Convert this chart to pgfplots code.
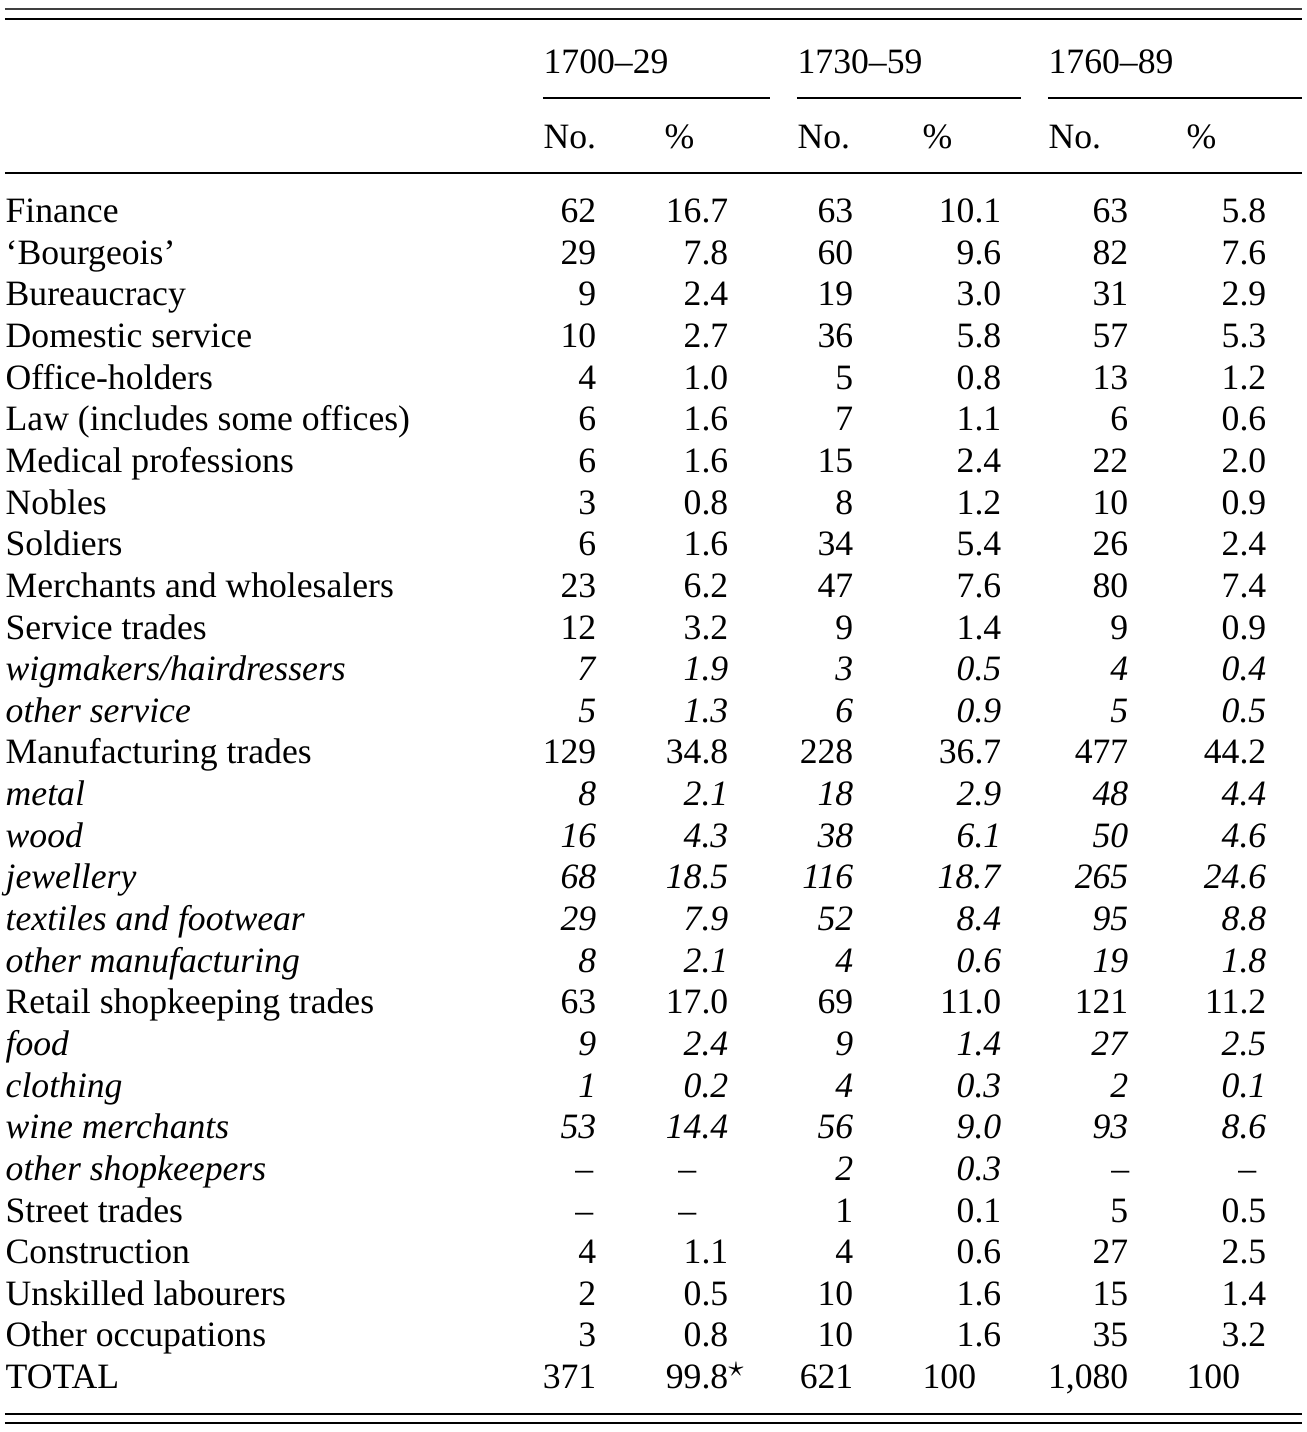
\documentclass[border=0pt]{standalone}
\usepackage{fontspec}
\setmainfont{Liberation Serif}
\usepackage{pgfplots}
\pgfplotsset{compat=1.18}
\newcommand{\I}[1]{\textit{#1}}
\newcommand{\tabfont}{\fontsize{10.7}{12.5}\selectfont}
% x in pixels of the reference, y in table rows (row 0 = Finance, baseline)
\pgfplotsset{
  cellR/.style={only marks, mark=none, point meta=explicit symbolic,
    nodes near coords,
    nodes near coords style={anchor=base east, inner sep=0pt, yshift=-0.5pt, font=\tabfont}},
  cellL/.style={only marks, mark=none, point meta=explicit symbolic,
    nodes near coords,
    nodes near coords style={anchor=base west, inner sep=0pt, yshift=-0.5pt, font=\tabfont}},
  rule/.style={black, mark=none, line width=#1},
}
\begin{document}
\begin{tikzpicture}
\begin{axis}[
    width=392.1pt, height=429.6pt,
    scale only axis,
    hide axis,
    clip=false,
    xmin=0, xmax=1307,
    ymin=-5.3074, ymax=29.083,
    y dir=reverse,
]
\addplot[draw=none] coordinates {(0,-5.3074) (1307,29.083)};

% rules
\addplot[rule=0.35pt, black!75] coordinates {(5,-5.091) (1302,-5.091)};
\addplot[rule=0.7pt] coordinates {(5,-4.851) (1302,-4.851)};
\addplot[rule=0.6pt] coordinates {(543,-2.954) (770,-2.954)};
\addplot[rule=0.6pt] coordinates {(797,-2.954) (1021,-2.954)};
\addplot[rule=0.6pt] coordinates {(1048,-2.954) (1302,-2.954)};
\addplot[rule=0.7pt] coordinates {(5,-1.153) (1302,-1.153)};
\addplot[rule=0.45pt] coordinates {(5,28.650) (1302,28.650)};
\addplot[rule=0.45pt] coordinates {(5,28.866) (1302,28.866)};

% headers and left-aligned cells
\addplot[cellL] coordinates {
  (543,-3.578) [1700–29] (797,-3.578) [1730–59] (1048,-3.578) [1760–89]
  (543,-1.777) [No.] (664,-1.777) [\%]
  (797,-1.777) [No.] (922,-1.777) [\%]
  (1048,-1.777) [No.] (1186,-1.777) [\%]
  (922,28) [100] (1186,28) [100]
};

% row labels
\addplot[cellL] coordinates {
  (5,0) [Finance]
  (5,1) [‘Bourgeois’]
  (5,2) [Bureaucracy]
  (5,3) [Domestic service]
  (5,4) [Office-holders]
  (5,5) [Law (includes some offices)]
  (5,6) [Medical professions]
  (5,7) [Nobles]
  (5,8) [Soldiers]
  (5,9) [Merchants and wholesalers]
  (5,10) [Service trades]
  (5,11) [\I{wigmakers/hairdressers}]
  (5,12) [\I{other service}]
  (5,13) [Manufacturing trades]
  (5,14) [\I{metal}]
  (5,15) [\I{wood}]
  (5,16) [\I{jewellery}]
  (5,17) [\I{textiles and footwear}]
  (5,18) [\I{other manufacturing}]
  (5,19) [Retail shopkeeping trades]
  (5,20) [\I{food}]
  (5,21) [\I{clothing}]
  (5,22) [\I{wine merchants}]
  (5,23) [\I{other shopkeepers}]
  (5,24) [Street trades]
  (5,25) [Construction]
  (5,26) [Unskilled labourers]
  (5,27) [Other occupations]
  (5,28) [TOTAL]
};

% 1700-29 No.
\addplot[cellR] coordinates {
  (597,0) [62] (597,1) [29] (597,2) [9] (597,3) [10] (597,4) [4]
  (597,5) [6] (597,6) [6] (597,7) [3] (597,8) [6] (597,9) [23]
  (597,10) [12] (597,11) [\I{7}] (597,12) [\I{5}] (597,13) [129]
  (597,14) [\I{8}] (597,15) [\I{16}] (597,16) [\I{68}] (597,17) [\I{29}]
  (597,18) [\I{8}] (597,19) [63] (597,20) [\I{9}] (597,21) [\I{1}]
  (597,22) [\I{53}] (594,23) [–] (594,24) [–] (597,25) [4]
  (597,26) [2] (597,27) [3] (597,28) [371]
};
% 1700-29 %
\addplot[cellR] coordinates {
  (729,0) [16.7] (729,1) [7.8] (729,2) [2.4] (729,3) [2.7] (729,4) [1.0]
  (729,5) [1.6] (729,6) [1.6] (729,7) [0.8] (729,8) [1.6] (729,9) [6.2]
  (729,10) [3.2] (729,11) [\I{1.9}] (729,12) [\I{1.3}] (729,13) [34.8]
  (729,14) [\I{2.1}] (729,15) [\I{4.3}] (729,16) [\I{18.5}] (729,17) [\I{7.9}]
  (729,18) [\I{2.1}] (729,19) [17.0] (729,20) [\I{2.4}] (729,21) [\I{0.2}]
  (729,22) [\I{14.4}] (697,23) [–] (697,24) [–] (729,25) [1.1]
  (729,26) [0.5] (729,27) [0.8] (729,28) [99.8\rlap{\raisebox{0.75ex}{\small$\star$}}]
};
% 1730-59 No.
\addplot[cellR] coordinates {
  (854,0) [63] (854,1) [60] (854,2) [19] (854,3) [36] (854,4) [5]
  (854,5) [7] (854,6) [15] (854,7) [8] (854,8) [34] (854,9) [47]
  (854,10) [9] (854,11) [\I{3}] (854,12) [\I{6}] (854,13) [228]
  (854,14) [\I{18}] (854,15) [\I{38}] (854,16) [\I{116}] (854,17) [\I{52}]
  (854,18) [\I{4}] (854,19) [69] (854,20) [\I{9}] (854,21) [\I{4}]
  (854,22) [\I{56}] (854,23) [\I{2}] (854,24) [1] (854,25) [4]
  (854,26) [10] (854,27) [10] (854,28) [621]
};
% 1730-59 %
\addplot[cellR] coordinates {
  (1002,0) [10.1] (1002,1) [9.6] (1002,2) [3.0] (1002,3) [5.8] (1002,4) [0.8]
  (1002,5) [1.1] (1002,6) [2.4] (1002,7) [1.2] (1002,8) [5.4] (1002,9) [7.6]
  (1002,10) [1.4] (1002,11) [\I{0.5}] (1002,12) [\I{0.9}] (1002,13) [36.7]
  (1002,14) [\I{2.9}] (1002,15) [\I{6.1}] (1002,16) [\I{18.7}] (1002,17) [\I{8.4}]
  (1002,18) [\I{0.6}] (1002,19) [11.0] (1002,20) [\I{1.4}] (1002,21) [\I{0.3}]
  (1002,22) [\I{9.0}] (1002,23) [\I{0.3}] (1002,24) [0.1] (1002,25) [0.6]
  (1002,26) [1.6] (1002,27) [1.6]
};
% 1760-89 No.
\addplot[cellR] coordinates {
  (1129,0) [63] (1129,1) [82] (1129,2) [31] (1129,3) [57] (1129,4) [13]
  (1129,5) [6] (1129,6) [22] (1129,7) [10] (1129,8) [26] (1129,9) [80]
  (1129,10) [9] (1129,11) [\I{4}] (1129,12) [\I{5}] (1129,13) [477]
  (1129,14) [\I{48}] (1129,15) [\I{50}] (1129,16) [\I{265}] (1129,17) [\I{95}]
  (1129,18) [\I{19}] (1129,19) [121] (1129,20) [\I{27}] (1129,21) [\I{2}]
  (1129,22) [\I{93}] (1130,23) [–] (1129,24) [5] (1129,25) [27]
  (1129,26) [15] (1129,27) [35] (1129,28) [{1,080}]
};
% 1760-89 %
\addplot[cellR] coordinates {
  (1267,0) [5.8] (1267,1) [7.6] (1267,2) [2.9] (1267,3) [5.3] (1267,4) [1.2]
  (1267,5) [0.6] (1267,6) [2.0] (1267,7) [0.9] (1267,8) [2.4] (1267,9) [7.4]
  (1267,10) [0.9] (1267,11) [\I{0.4}] (1267,12) [\I{0.5}] (1267,13) [44.2]
  (1267,14) [\I{4.4}] (1267,15) [\I{4.6}] (1267,16) [\I{24.6}] (1267,17) [\I{8.8}]
  (1267,18) [\I{1.8}] (1267,19) [11.2] (1267,20) [\I{2.5}] (1267,21) [\I{0.1}]
  (1267,22) [\I{8.6}] (1257,23) [–] (1267,24) [0.5] (1267,25) [2.5]
  (1267,26) [1.4] (1267,27) [3.2]
};
\end{axis}
\end{tikzpicture}
\end{document}
